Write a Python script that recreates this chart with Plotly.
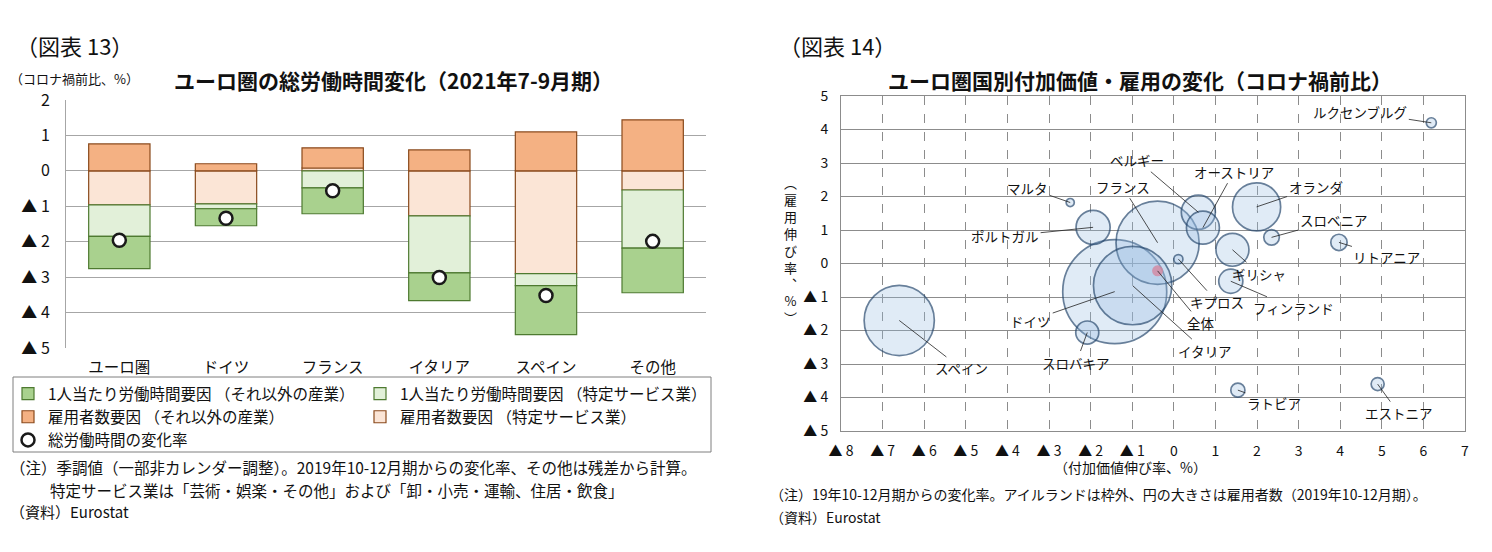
import plotly.graph_objects as go

W, H = 1492, 552
OFF = 8   # page body margin of the exported html

# ---- 図表13: ユーロ圏の総労働時間変化 ----
categories = ["ユーロ圏", "ドイツ", "フランス", "イタリア", "スペイン", "その他"]
hours_other = [-0.91, -0.48, -0.73, -0.78, -1.38, -1.26]     # 1人当たり労働時間要因（それ以外の産業）
hours_special = [-0.89, -0.14, -0.48, -1.61, -0.34, -1.64]   # 1人当たり労働時間要因（特定サービス業）
emp_other = [0.76, 0.20, 0.57, 0.59, 1.10, 1.44]             # 雇用者数要因（それ以外の産業）
emp_special = [-0.96, -0.93, 0.08, -1.27, -2.90, -0.54]      # 雇用者数要因（特定サービス業）
total_hours = [-1.96, -1.34, -0.56, -3.01, -3.52, -1.99]     # 総労働時間の変化率

left_ticks = [2, 1, 0, -1, -2, -3, -4, -5]
left_ticktext = ["2", "1", "0", "▲ 1", "▲ 2", "▲ 3", "▲ 4", "▲ 5"]

# ---- 図表14: 付加価値・雇用の変化 ----
countries = ["スペイン", "ドイツ", "フランス", "イタリア", "オランダ", "ポルトガル",
             "ベルギー", "オーストリア", "ギリシャ", "フィンランド", "スロバキア",
             "リトアニア", "スロベニア", "ラトビア", "エストニア", "ルクセンブルグ",
             "キプロス", "マルタ"]
va_growth = [-6.60, -1.42, -0.39, -0.99, 1.99, -1.94, 0.59, 0.70, 1.41, 1.37,
             -2.08, 3.97, 2.35, 1.54, 4.90, 6.19, 0.11, -2.49]
emp_growth = [-1.70, -0.84, 0.62, -0.66, 1.69, 1.08, 1.53, 1.07, 0.41, -0.53,
              -2.06, 0.63, 0.78, -3.78, -3.60, 4.20, 0.13, 1.82]
employed = [20.4, 44.8, 28.6, 25.4, 9.6, 4.8, 4.8, 4.5, 4.5, 2.4, 2.2, 1.1,
            1.0, 0.82, 0.70, 0.42, 0.34, 0.27]   # 百万人（2019年10-12月期）
ea_va, ea_emp = -0.39, -0.22   # 全体

right_xticks = list(range(-8, 8))
right_xticktext = [("▲ %d" % -v) if v < 0 else str(v) for v in right_xticks]
right_yticks = list(range(-5, 6))
right_yticktext = [("▲ %d" % -v) if v < 0 else str(v) for v in right_yticks]

# label offsets in px (text centre relative to bubble centre)
label_offsets = {
    "ルクセンブルグ": (-71, -11), "ベルギー": (-61, -52), "オーストリア": (31, -56),
    "オランダ": (59, -20), "マルタ": (-43, -15), "フランス": (-35, -56),
    "スロベニア": (62, -17), "ポルトガル": (-88, 9), "リトアニア": (48, 15),
    "ギリシャ": (27, 24), "キプロス": (39, 43), "フィンランド": (63, 27),
    "ドイツ": (-84, 29), "イタリア": (72, 65), "スロバキア": (-11, 30),
    "スペイン": (62, 48), "ラトビア": (36, 13), "エストニア": (21, 29),
}

FONT = "Noto Sans CJK JP"


def px(v):
    return (v - OFF) / W


def py(v):
    return 1 - (v - OFF) / H


fig = go.Figure()

bar_specs = [
    (emp_special, "雇用者数要因 （特定サービス業）", "#fbe5d6", "#8a4a1c", "legend2", 2),
    (emp_other, "雇用者数要因 （それ以外の産業）", "#f4b183", "#8a4a1c", "legend", 2),
    (hours_special, "1人当たり労働時間要因 （特定サービス業）", "#e2f0d9", "#4e7a30", "legend2", 1),
    (hours_other, "1人当たり労働時間要因 （それ以外の産業）", "#a9d18e", "#4e7a30", "legend", 1),
]
for vals, name, fill, edge, leg, rank in bar_specs:
    fig.add_trace(go.Bar(
        x=categories, y=vals, name=name, width=0.575,
        marker=dict(color=fill, line=dict(color=edge, width=1.2)),
        legend=leg, legendrank=rank, xaxis="x", yaxis="y",
    ))

fig.add_trace(go.Scatter(
    x=categories, y=total_hours, mode="markers", name="総労働時間の変化率",
    marker=dict(symbol="circle", size=13, color="white",
                line=dict(color="#1a1a1a", width=2.5)),
    legend="legend", legendrank=3, xaxis="x", yaxis="y",
))

fig.add_trace(go.Scatter(
    x=va_growth, y=emp_growth, mode="markers", showlegend=False,
    marker=dict(size=employed, sizemode="area", sizeref=2 * max(employed) / 104 ** 2,
                color="rgba(150,188,226,0.42)", line=dict(color="#284a70", width=1.7)),
    xaxis="x2", yaxis="y2",
))
fig.add_trace(go.Scatter(
    x=[ea_va], y=[ea_emp], mode="markers", showlegend=False,
    marker=dict(size=11, color="rgba(214,130,155,0.75)"),
    xaxis="x2", yaxis="y2",
))

annotations = []
for name, xv, yv in zip(countries + ["全体"], va_growth + [ea_va], emp_growth + [ea_emp]):
    ax, ay = label_offsets.get(name, (43, 52))
    annotations.append(dict(
        x=xv, y=yv, xref="x2", yref="y2", text=name, showarrow=True,
        arrowhead=0, arrowwidth=0.8, arrowcolor="#222", standoff=0,
        ax=ax, ay=ay, font=dict(family=FONT, size=13.5, color="#111"),
    ))

texts = [
    ("（図表 13）", 14, 45, 22, "left"),
    ("（コロナ禍前比、%）", 8, 78, 13, "left"),
    ("<b>ユーロ圏の総労働時間変化（2021年7-9月期）</b>", 172, 80, 21, "left"),
    ("（注）季調値（一部非カレンダー調整）。2019年10-12月期からの変化率、その他は残差から計算。", 8, 467, 15.5, "left"),
    ("特定サービス業は「芸術・娯楽・その他」および「卸・小売・運輸、住居・飲食」", 48, 490, 15.5, "left"),
    ("（資料）Eurostat", 8, 512, 15, "left"),
    ("（図表 14）", 777, 45, 22, "left"),
    ("<b>ユーロ圏国別付加価値・雇用の変化（コロナ禍前比）</b>", 1140, 80, 21, "center"),
    ("（付加価値伸び率、%）", 1130, 467, 14, "center"),
    ("（注）19年10-12月期からの変化率。アイルランドは枠外、円の大きさは雇用者数（2019年10-12月期）。", 768, 494, 14, "left"),
    ("（資料）Eurostat", 768, 517, 14, "left"),
    ("︵<br>雇<br>用<br>伸<br>び<br>率<br>︑<br>%<br>︶", 790, 250, 13, "center"),
]
for t, x, y, size, anchor in texts:
    annotations.append(dict(
        x=px(x), y=py(y), xref="paper", yref="paper", text=t, showarrow=False,
        xanchor=anchor, yanchor="middle", font=dict(family=FONT, size=size, color="#111"),
    ))

shapes = [dict(type="rect", xref="paper", yref="paper",
               x0=px(13), x1=px(711), y0=py(452), y1=py(377),
               line=dict(color="#7f7f7f", width=1))]

fig.update_layout(
    width=W, height=H, margin=dict(l=0, r=0, t=0, b=0, autoexpand=False),
    paper_bgcolor="white", plot_bgcolor="white",
    font=dict(family=FONT, color="#111"),
    barmode="relative", bargap=0.425,
    xaxis=dict(domain=[px(66), px(706)], anchor="y", showgrid=False, automargin=False,
               tickfont=dict(size=15.5), ticks="", ticklabelstandoff=8),
    yaxis=dict(domain=[py(348), py(100)], anchor="x", range=[-5, 2], automargin=False,
               tickvals=left_ticks, ticktext=left_ticktext, tickfont=dict(size=16),
               showgrid=True, gridcolor="#a6a6a6", gridwidth=1,
               zeroline=True, zerolinecolor="#a6a6a6", zerolinewidth=1,
               showline=True, linecolor="#a6a6a6", ticks="", ticklabelstandoff=12),
    xaxis2=dict(domain=[px(841), px(1465)], anchor="y2", range=[-8, 7], automargin=False,
                tickvals=right_xticks, ticktext=right_xticktext, tickfont=dict(size=14),
                showgrid=True, gridcolor="#8c8c8c", griddash="dash", gridwidth=1,
                zeroline=False, showline=True, mirror=True, linecolor="#8c8c8c",
                ticks="", ticklabelstandoff=7),
    yaxis2=dict(domain=[py(431), py(96)], anchor="x2", range=[-5, 5], automargin=False,
                tickvals=right_yticks, ticktext=right_yticktext, tickfont=dict(size=14),
                showgrid=True, gridcolor="#8c8c8c", gridwidth=1,
                zeroline=False, showline=True, mirror=True, linecolor="#8c8c8c",
                ticks="", ticklabelstandoff=9),
    legend=dict(x=px(8), y=py(377), xanchor="left", yanchor="top",
                orientation="v", font=dict(size=15.5), tracegroupgap=1,
                bgcolor="rgba(0,0,0,0)", traceorder="normal"),
    legend2=dict(x=px(360), y=py(377), xanchor="left", yanchor="top",
                 orientation="v", font=dict(size=15.5), tracegroupgap=1,
                 bgcolor="rgba(0,0,0,0)", traceorder="normal"),
    annotations=annotations,
    shapes=shapes,
)

fig.write_html("out.html")
